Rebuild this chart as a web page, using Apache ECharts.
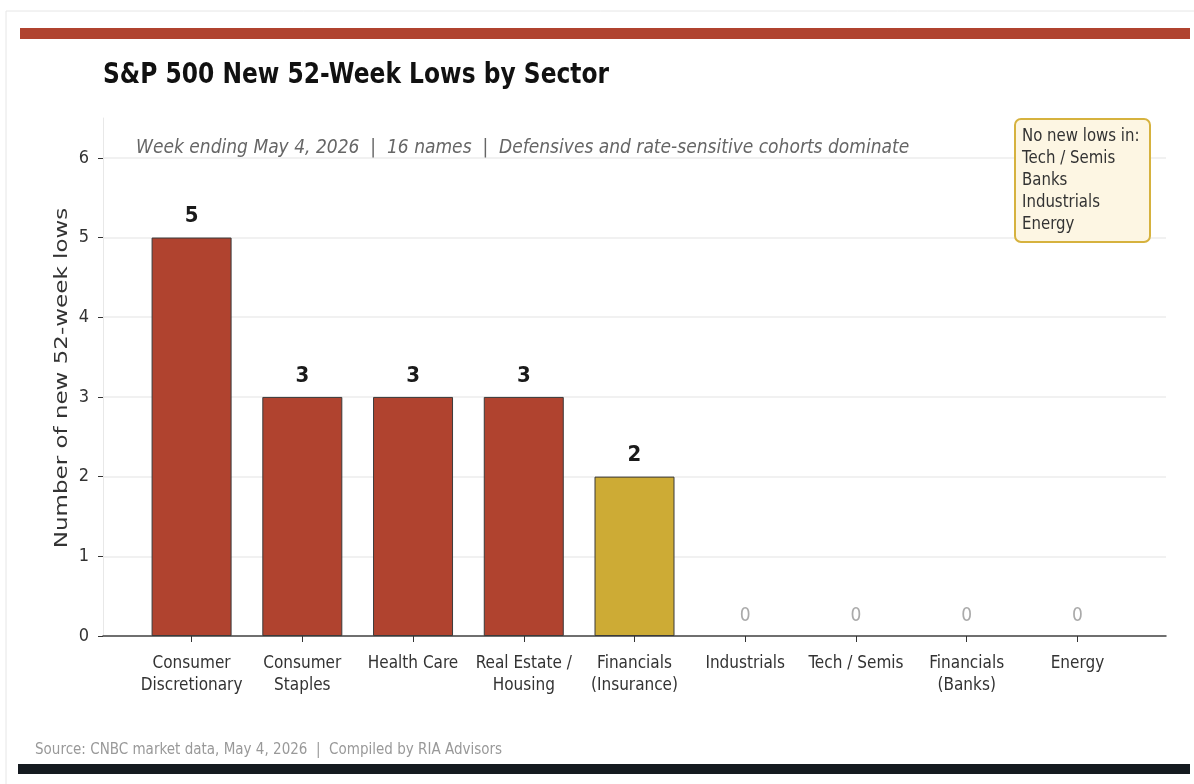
<!DOCTYPE html>
<html>
<head>
<meta charset="utf-8">
<script src="https://cdn.jsdelivr.net/npm/echarts@6/dist/echarts.min.js"></script>
<style>
  html, body { margin: 0; padding: 0; background: #fff; }
  #chart { width: 1194px; height: 784px; }
</style>
</head>
<body>
<div id="chart"></div>
<script>
// data
const sectors = ['Consumer\nDiscretionary', 'Consumer\nStaples', 'Health Care', 'Real Estate /\nHousing',
  'Financials\n(Insurance)', 'Industrials', 'Tech / Semis', 'Financials\n(Banks)', 'Energy'];
const lows = [5, 3, 3, 3, 2, 0, 0, 0, 0];
const highlight = [false, false, false, false, true, false, false, false, false];
const yTicks = [0, 1, 2, 3, 4, 5, 6];
const noLowsNote = ['No new lows in:', 'Tech / Semis', 'Banks', 'Industrials', 'Energy'];

const RED = '#B0432F';
const GOLD = '#CDAB35';
const font = '"DejaVu Sans Condensed", "DejaVu Sans"';

const chart = echarts.init(document.getElementById('chart'));

const barData = lows.map((v, i) => {
  const item = {
    value: [i, v],
    itemStyle: { color: highlight[i] ? GOLD : RED }
  };
  if (v === 0) {
    // empty sectors only get a grey "0"
    item.itemStyle.borderWidth = 0;
    item.label = { color: '#aaa', fontWeight: 'normal', fontSize: 19, distance: 10 };
  }
  return item;
});

const option = {
  animation: false,
  backgroundColor: '#fff',
  grid: { left: 103, right: 28, top: 118, bottom: 148 },
  xAxis: {
    type: 'value',
    min: -0.8,
    max: 8.8,
    axisLine: { show: true, onZero: false, lineStyle: { color: '#444', width: 1.5 } },
    axisTick: { show: true, customValues: sectors.map((s, i) => i), length: 6, lineStyle: { color: '#333' } },
    axisLabel: {
      customValues: sectors.map((s, i) => i),
      formatter: v => sectors[Math.round(v)],
      color: '#333', fontFamily: font, fontSize: 17, lineHeight: 22, margin: 17
    },
    splitLine: { show: false }
  },
  yAxis: {
    type: 'value',
    min: 0,
    max: 6.5,
    axisLine: { show: true, onZero: false, lineStyle: { color: '#e8e8e8' } },
    axisTick: { show: true, customValues: yTicks, length: 5, lineStyle: { color: '#333' } },
    axisLabel: { customValues: yTicks, color: '#333', fontFamily: font, fontSize: 18, margin: 14 },
    splitLine: { show: true, lineStyle: { color: '#ececec', width: 1.5 } }
  },
  series: [{
    type: 'bar',
    barWidth: 80,
    data: barData,
    itemStyle: { borderColor: '#3a3a3a', borderWidth: 1 },
    label: {
      show: true,
      position: 'top',
      distance: 10,
      formatter: p => p.value[1],
      color: '#1a1a1a',
      fontFamily: font,
      fontWeight: 'bold',
      fontSize: 22
    }
  }],
  graphic: [
    { type: 'rect', z: 100, shape: { x: 6, y: 11, width: 1200, height: 780 }, style: { fill: 'none', stroke: '#e6e6e6', lineWidth: 1 }, silent: true },
    { type: 'rect', z: 100, shape: { x: 20, y: 28, width: 1170, height: 11 }, style: { fill: '#B0432F' } },
    { type: 'rect', z: 100, shape: { x: 18, y: 764, width: 1172, height: 10 }, style: { fill: '#151a20' } },
    {
      type: 'text', z: 100, left: 103, top: 62, scaleX: 0.85,
      style: { text: 'S&P 500 New 52-Week Lows by Sector', fill: '#111', font: 'bold 27.5px "DejaVu Sans"' }
    },
    {
      type: 'text', z: 100, left: 136, top: 139, scaleX: 0.9,
      style: { text: 'Week ending May 4, 2026  |  16 names  |  Defensives and rate-sensitive cohorts dominate', fill: '#666', font: 'italic 19px "DejaVu Sans"' }
    },
    {
      type: 'text', z: 100, x: 62, y: 378, rotation: Math.PI / 2, scaleY: 0.8,
      style: { text: 'Number of new 52-week lows', fill: '#333', font: '23px "DejaVu Sans"', align: 'center', verticalAlign: 'middle' }
    },
    {
      type: 'rect', z: 100, shape: { x: 1015, y: 119, width: 135, height: 123, r: 6 },
      style: { fill: '#FDF6E3', stroke: '#D6B23E', lineWidth: 2 }
    },
    {
      type: 'text', z: 101, left: 1022, top: 126, scaleX: 0.88,
      style: { text: noLowsNote.join('\n'), fill: '#333', font: '17px "DejaVu Sans"', lineHeight: 21.8 }
    },
    {
      type: 'text', z: 100, left: 35, top: 743, scaleX: 0.9,
      style: { text: 'Source: CNBC market data, May 4, 2026  |  Compiled by RIA Advisors', fill: '#999', font: '15px "DejaVu Sans"' }
    }
  ]
};

chart.setOption(option);
</script>
</body>
</html>
